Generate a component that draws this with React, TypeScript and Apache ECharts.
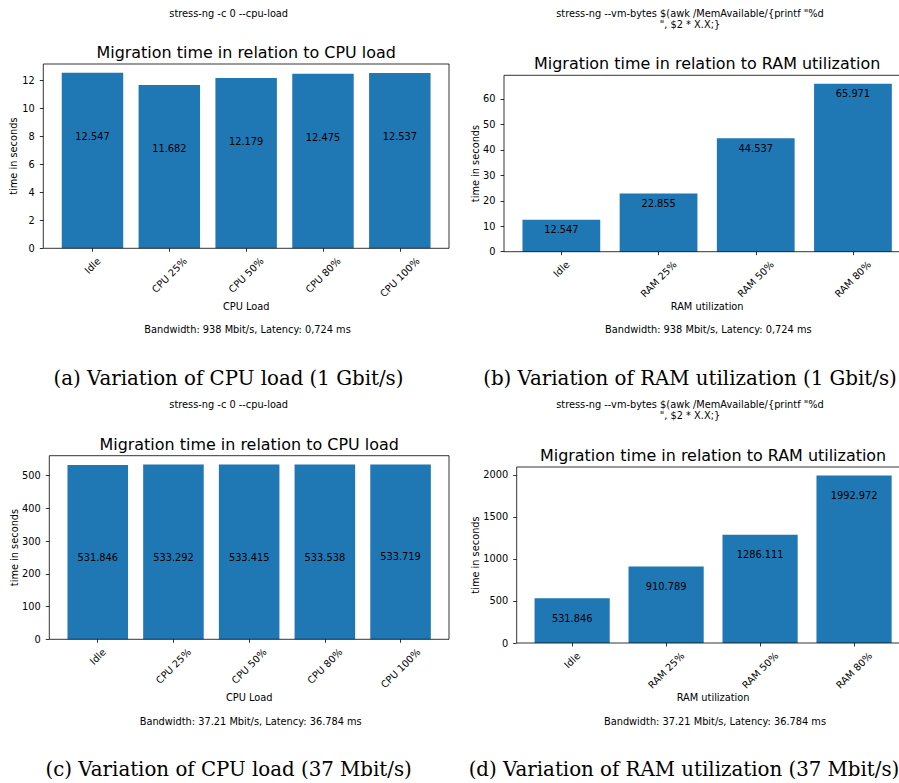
import React, { useEffect, useRef } from 'react';
import * as echarts from 'echarts';

// ---------- data ----------
const cpuCategories = ['Idle', 'CPU 25%', 'CPU 50%', 'CPU 80%', 'CPU 100%'];
const ramCategories = ['Idle', 'RAM 25%', 'RAM 50%', 'RAM 80%'];

const cpuTimes1G = [12.547, 11.682, 12.179, 12.475, 12.537];
const ramTimes1G = [12.547, 22.855, 44.537, 65.971];
const cpuTimes37M = [531.846, 533.292, 533.415, 533.538, 533.719];
const ramTimes37M = [531.846, 910.789, 1286.111, 1992.972];

const cpuTicks1G = [0, 2, 4, 6, 8, 10, 12];
const ramTicks1G = [0, 10, 20, 30, 40, 50, 60];
const cpuTicks37M = [0, 100, 200, 300, 400, 500];
const ramTicks37M = [0, 500, 1000, 1500, 2000];

const chartTitles = [
  'Migration time in relation to CPU load',
  'Migration time in relation to RAM utilization',
  'Migration time in relation to CPU load',
  'Migration time in relation to RAM utilization',
];
const xAxisNames = ['CPU Load', 'RAM utilization', 'CPU Load', 'RAM utilization'];
const yAxisName = 'time in seconds';
const commandTexts = [
  'stress-ng -c 0 --cpu-load',
  'stress-ng --vm-bytes $(awk /MemAvailable/{printf "%d\n", $2 * X.X;}',
  'stress-ng -c 0 --cpu-load',
  'stress-ng --vm-bytes $(awk /MemAvailable/{printf "%d\n", $2 * X.X;}',
];
const networkTexts = [
  'Bandwidth: 938 Mbit/s, Latency: 0,724 ms',
  'Bandwidth: 938 Mbit/s, Latency: 0,724 ms',
  'Bandwidth: 37.21 Mbit/s, Latency: 36.784 ms',
  'Bandwidth: 37.21 Mbit/s, Latency: 36.784 ms',
];
const captions = [
  '(a) Variation of CPU load (1 Gbit/s)',
  '(b) Variation of RAM utilization (1 Gbit/s)',
  '(c) Variation of CPU load (37 Mbit/s)',
  '(d) Variation of RAM utilization (37 Mbit/s)',
];

const panelData = [
  { cats: cpuCategories, vals: cpuTimes1G, ticks: cpuTicks1G },
  { cats: ramCategories, vals: ramTimes1G, ticks: ramTicks1G },
  { cats: cpuCategories, vals: cpuTimes37M, ticks: cpuTicks37M },
  { cats: ramCategories, vals: ramTimes37M, ticks: ramTicks37M },
];

// ---------- layout ----------
const layouts = [
  { frame: { l: 43.3, r: 449, t: 64, b: 248.3 }, yNameX: 13.3, xNameY: 307, labelOffset: 64, supX: 228.7, supY: 13, bwX: 247.5, bwY: 329.7, capX: 228.5, capY: 378 },
  { frame: { l: 504, r: 910.3, t: 75.3, b: 251.7 }, yNameX: 475, xNameY: 307, labelOffset: 9.8, supX: 690, supY: 18.7, bwX: 708.3, bwY: 329.7, capX: 690, capY: 378 },
  { frame: { l: 49.3, r: 449, t: 455.7, b: 639.3 }, yNameX: 14, xNameY: 698.3, labelOffset: 92.5, supX: 228.7, supY: 404, bwX: 250.7, bwY: 721, capX: 228.7, capY: 769.3 },
  { frame: { l: 516.7, r: 909.5, t: 467, b: 643 }, yNameX: 475, xNameY: 698.3, labelOffset: 20, supX: 690, supY: 409.7, bwX: 715, bwY: 721, capX: 684, capY: 769.3 },
];

const FONT = '"DejaVu Sans", sans-serif';
const SERIF = '"DejaVu Serif", serif';
const SMALL = 9.8;
const TITLE = 15.95;
const CAPTION = 19.8;
const BAR = '#1f77b4';
const INK = '#000';

export default function App() {
  const ref = useRef<HTMLDivElement>(null);

  useEffect(() => {
    document.body.style.margin = '0';
    if (!ref.current) return;
    const chart = echarts.init(ref.current, null, { renderer: 'svg' });

    const ctx = document.createElement('canvas').getContext('2d')!;
    ctx.font = `${SMALL}px "DejaVu Sans"`;
    const measure = (t: string) => ctx.measureText(t).width;

    const grids: any[] = [];
    const xAxes: any[] = [];
    const yAxes: any[] = [];
    const series: any[] = [];
    const titles: any[] = [];
    const graphics: any[] = [];

    panelData.forEach((p, i) => {
      const L = layouts[i];
      const f = L.frame;
      const n = p.cats.length;
      const fw = f.r - f.l;
      const u = fw / ((n - 0.2) * 1.1);
      const side = (fw - n * u) / 2;
      const gl = f.l + side;

      const rich: any = {};
      p.cats.forEach((c, k) => {
        const w = measure(c);
        rich['p' + k] = {
          fontSize: SMALL,
          fontFamily: FONT,
          color: INK,
          padding: [w / 2, w / 2, 0, 0],
        };
      });

      grids.push({
        left: gl,
        top: f.t,
        width: n * u,
        height: f.b - f.t,
        containLabel: false,
        outerBoundsMode: 'none',
      });

      xAxes.push({
        type: 'category',
        gridIndex: i,
        data: p.cats,
        boundaryGap: true,
        axisLine: { show: false },
        axisTick: {
          show: true,
          alignWithLabel: true,
          interval: 0,
          length: 3.5,
          lineStyle: { color: INK, width: 0.8 },
        },
        axisLabel: {
          interval: 0,
          rotate: 45,
          align: 'center',
          verticalAlign: 'middle',
          margin: 11,
          formatter: (v: string, idx: number) => `{p${idx}|${v}}`,
          rich,
        },
        splitLine: { show: false },
        name: xAxisNames[i],
        nameLocation: 'middle',
        nameGap: L.xNameY - f.b - 5.5,
        nameMoveOverlap: false,
        nameTextStyle: { fontSize: SMALL, fontFamily: FONT, color: INK },
      });

      yAxes.push({
        type: 'value',
        gridIndex: i,
        min: 0,
        max: Math.max(...p.vals) * 1.05,
        offset: side,
        axisLine: { show: false },
        axisTick: {
          show: true,
          length: 3.5,
          customValues: p.ticks,
          lineStyle: { color: INK, width: 0.8 },
        },
        axisLabel: {
          customValues: p.ticks,
          formatter: (v: number) => String(v),
          margin: 8.5,
          fontSize: SMALL,
          fontFamily: FONT,
          color: INK,
        },
        splitLine: { show: false },
        name: yAxisName,
        nameLocation: 'middle',
        nameRotate: 90,
        nameGap: f.l - L.yNameX - 5.5,
        nameMoveOverlap: false,
        nameTextStyle: { fontSize: SMALL, fontFamily: FONT, color: INK },
      });

      series.push({
        type: 'bar',
        xAxisIndex: i,
        yAxisIndex: i,
        data: p.vals,
        barWidth: 0.8 * u,
        itemStyle: { color: BAR },
        label: {
          show: true,
          position: ['50%', L.labelOffset],
          align: 'center',
          verticalAlign: 'middle',
          formatter: (pp: any) => Number(pp.value).toFixed(3),
          fontSize: SMALL,
          fontFamily: FONT,
          color: INK,
        },
      });

      titles.push({
        text: chartTitles[i],
        left: (f.l + f.r) / 2,
        top: f.t - 11.5,
        textAlign: 'center',
        textVerticalAlign: 'middle',
        padding: 0,
        itemGap: 0,
        textStyle: { fontSize: TITLE, fontWeight: 'normal', fontFamily: FONT, color: INK },
      });

      graphics.push({
        type: 'rect',
        z: 100,
        silent: true,
        shape: { x: f.l, y: f.t, width: fw, height: f.b - f.t },
        style: { fill: 'none', stroke: INK, lineWidth: 0.8 },
      });
      graphics.push({
        type: 'text',
        z: 100,
        silent: true,
        style: {
          text: commandTexts[i],
          x: L.supX,
          y: L.supY,
          align: 'center',
          verticalAlign: 'middle',
          fontSize: SMALL,
          fontFamily: FONT,
          lineHeight: 11.2,
          fill: INK,
        },
      });
      graphics.push({
        type: 'text',
        z: 100,
        silent: true,
        style: {
          text: networkTexts[i],
          x: L.bwX,
          y: L.bwY,
          align: 'center',
          verticalAlign: 'middle',
          fontSize: SMALL,
          fontFamily: FONT,
          fill: INK,
        },
      });
      graphics.push({
        type: 'text',
        z: 100,
        silent: true,
        style: {
          text: captions[i],
          x: L.capX,
          y: L.capY,
          align: 'center',
          verticalAlign: 'middle',
          fontSize: CAPTION,
          fontFamily: SERIF,
          fill: INK,
        },
      });
    });

    chart.setOption({
      animation: false,
      backgroundColor: '#fff',
      textStyle: { fontFamily: FONT },
      title: titles,
      grid: grids,
      xAxis: xAxes,
      yAxis: yAxes,
      series,
      graphic: { elements: graphics },
    });

    return () => chart.dispose();
  }, []);

  return (
    <div style={{ width: 899, height: 783, overflow: 'hidden', position: 'relative', background: '#fff' }}>
      <div ref={ref} style={{ width: 930, height: 783 }} />
    </div>
  );
}
